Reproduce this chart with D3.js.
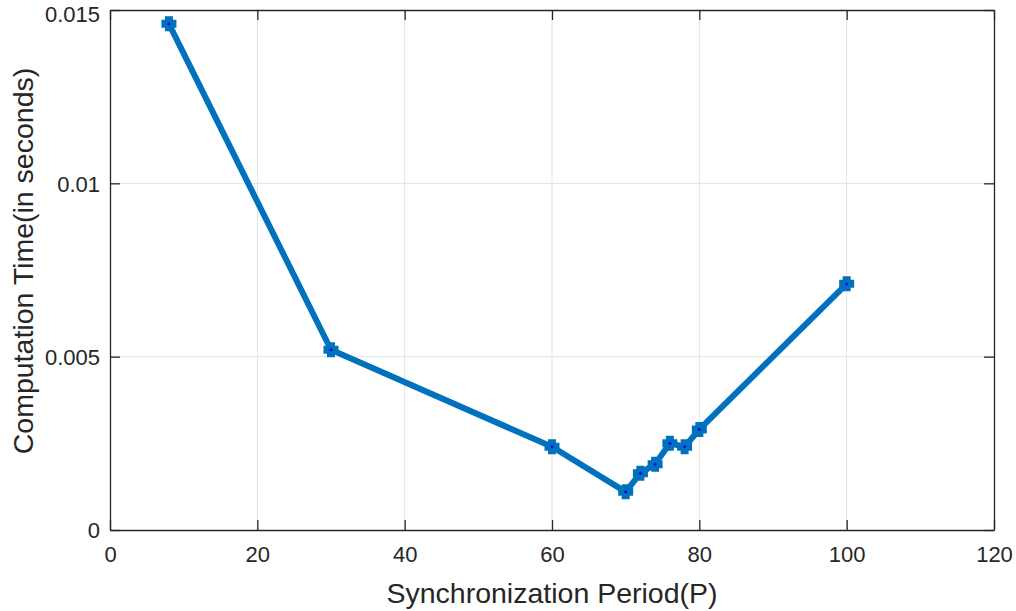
<!DOCTYPE html>
<html lang="en">

<head>
    <meta charset="UTF-8" />
    <title>Computation Time</title>
    <style>
        body { margin: 0; background: #fff; }
        text { font-family: Arial, "Liberation Sans", sans-serif; fill: #262626; }
    </style>
</head>

<body>
    <div id="container"></div>
</body>
<script src="https://cdnjs.cloudflare.com/ajax/libs/d3/7.8.5/d3.min.js"></script>
<script>
    // data
    let periods = [8, 30, 60, 70, 72, 74, 76, 78, 80, 100];
    let times = [0.0146, 0.0052, 0.0024, 0.0011, 0.00164, 0.0019, 0.0025, 0.0024, 0.0029, 0.0071];
    let xTicks = [0, 20, 40, 60, 80, 100, 120];
    let yTicks = [0, 0.005, 0.01, 0.015];
    let yTickLabels = ['0', '0.005', '0.01', '0.015'];

    let W = 1016, H = 611,
        mLeft = 110, mRight = 994, mTop = 10, mBottom = 530;

    let x = d3.scaleLinear().domain([0, 120]).range([mLeft, mRight]);
    let y = d3.scaleLinear().domain([0, 0.015]).range([mBottom, mTop]);

    let svg = d3.select('#container').append('svg').attr('width', W).attr('height', H);

    // grid
    svg.append('g').selectAll('line').data(xTicks.slice(1, -1)).enter().append('line')
        .attr('x1', d => x(d)).attr('x2', d => x(d))
        .attr('y1', mTop).attr('y2', mBottom)
        .attr('stroke', '#e3e3e3').attr('stroke-width', 1);
    svg.append('g').selectAll('line').data(yTicks.slice(1, -1)).enter().append('line')
        .attr('x1', mLeft).attr('x2', mRight)
        .attr('y1', d => y(d)).attr('y2', d => y(d))
        .attr('stroke', '#e3e3e3').attr('stroke-width', 1);

    // axes with inward ticks (bottom/left labelled, top/right bare)
    let fmtY = d => yTickLabels[yTicks.indexOf(d)];
    let axB = svg.append('g').attr('transform', `translate(0,${mBottom})`)
        .call(d3.axisBottom(x).tickValues(xTicks).tickSizeInner(-10).tickSizeOuter(0).tickPadding(16));
    let axT = svg.append('g').attr('transform', `translate(0,${mTop})`)
        .call(d3.axisTop(x).tickValues(xTicks).tickSizeInner(-10).tickSizeOuter(0).tickFormat(''));
    let axL = svg.append('g').attr('transform', `translate(${mLeft},0)`)
        .call(d3.axisLeft(y).tickValues(yTicks).tickSizeInner(-10).tickSizeOuter(0).tickPadding(10).tickFormat(fmtY));
    let axR = svg.append('g').attr('transform', `translate(${mRight},0)`)
        .call(d3.axisRight(y).tickValues(yTicks).tickSizeInner(-10).tickSizeOuter(0).tickFormat(''));

    [axB, axT, axL, axR].forEach(a => {
        a.selectAll('path').attr('stroke', '#262626').attr('stroke-width', 1.3);
        a.selectAll('line').attr('stroke', '#262626').attr('stroke-width', 1.3);
        a.selectAll('text').attr('font-size', 22).attr('fill', '#262626')
            .style('font-family', 'Arial, "Liberation Sans", sans-serif');
    });
    axL.selectAll('text').attr('dy', '0.36em');
    // top label sits right at the frame edge; keep it inside the page
    axL.selectAll('text').filter(d => d === 0.015).attr('dy', '0.5em');

    // line
    let pts = periods.map((p, i) => [p, times[i]]);
    svg.append('path').datum(pts)
        .attr('d', d3.line().x(d => x(d[0])).y(d => y(d[1])))
        .attr('fill', 'none').attr('stroke', '#0072BD').attr('stroke-width', 6)
        .attr('stroke-linejoin', 'round');

    // markers: fat plus with dark centre
    let mk = 'M-4,-7.5 L4,-7.5 L4,-4 L7.5,-4 L7.5,4 L4,4 L4,7.5 L-4,7.5 L-4,4 L-7.5,4 L-7.5,-4 L-4,-4 Z';
    let m = svg.append('g').selectAll('g').data(pts).enter().append('g')
        .attr('transform', d => `translate(${x(d[0])},${y(d[1])})`);
    m.append('path').attr('d', mk).attr('fill', '#0072BD');
    m.append('circle').attr('r', 1.6).attr('fill', '#1010e0');

    // axis titles
    svg.append('text').attr('x', (mLeft + mRight) / 2).attr('y', 603)
        .attr('text-anchor', 'middle').attr('font-size', 28.5)
        .text('Synchronization Period(P)');
    svg.append('text').attr('transform', 'translate(33,261) rotate(-90)')
        .attr('text-anchor', 'middle').attr('font-size', 28.5)
        .text('Computation Time(in seconds)');
</script>

</html>
